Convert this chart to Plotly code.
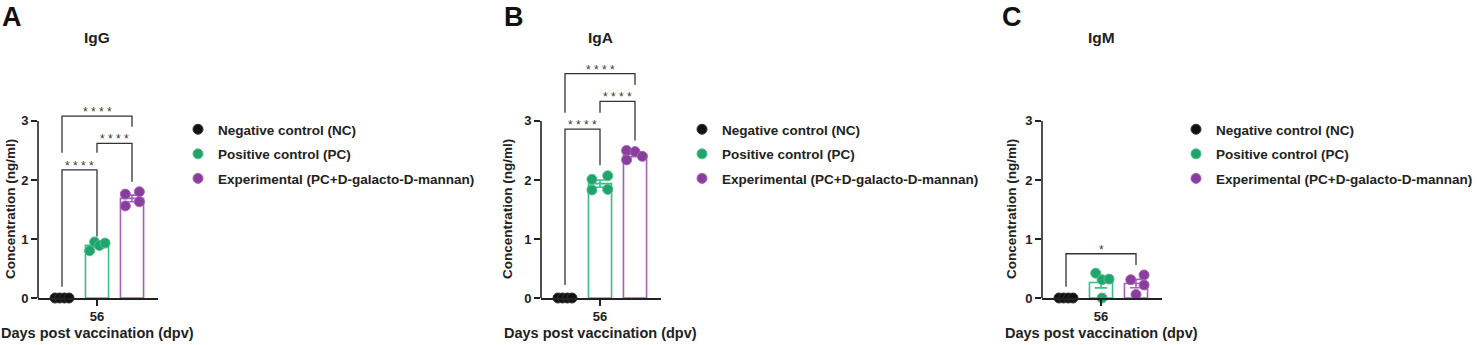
import numpy as np
import plotly.graph_objects as go

# ---------------- data ----------------
panel_titles = ["IgG", "IgA", "IgM"]
panel_letters = ["A", "B", "C"]
group_names = ["Negative control (NC)", "Positive control (PC)",
               "Experimental (PC+D-galacto-D-mannan)"]
timepoint_label = ["56"]
y_tick_values = [0, 1, 2, 3]
x_title = "Days post vaccination (dpv)"
y_title = "Concentration (ng/ml)"

igg_nc = [0.0, 0.0, 0.0, 0.0]
igg_pc = [0.80, 0.95, 0.89, 0.93]
igg_exp = [1.76, 1.80, 1.56, 1.63]

iga_nc = [0.0, 0.0, 0.0, 0.0]
iga_pc = [2.01, 2.07, 1.83, 1.84]
iga_exp = [2.50, 2.48, 2.34, 2.40]

igm_nc = [0.0, 0.0, 0.0, 0.0]
igm_pc = [0.42, 0.31, 0.32, 0.00]
igm_exp = [0.31, 0.39, 0.22, 0.06]

# significance brackets: (group a, group b, bracket height, left foot, right foot, label)
igg_sig = [(0, 2, 3.08, 2.46, 2.90, "* * * *"),
           (1, 2, 2.62, 2.46, 1.97, "* * * *"),
           (0, 1, 2.17, 0.19, 1.04, "* * * *")]
iga_sig = [(0, 2, 3.80, 3.14, 3.61, "* * * *"),
           (1, 2, 3.33, 3.14, 2.67, "* * * *"),
           (0, 1, 2.86, 0.22, 2.25, "* * * *")]
igm_sig = [(0, 2, 0.75, 0.19, 0.56, "*")]

# ---------------- style ----------------
FONT = "Arial, Liberation Sans, sans-serif"
INK = "#222222"
W, H = 1478, 345
point_colors = ["#111111", "#21a46b", "#8a3d9d"]
point_edges = ["#333333", "#4cc28e", "#a565b8"]
bar_edges = ["#222222", "#3dbd86", "#a462b7"]

# point horizontal spread (style only)
jitter = {
    "IgG": [[-0.20, -0.07, 0.07, 0.20], [-0.21, -0.07, 0.07, 0.23], [-0.19, 0.21, -0.19, 0.21]],
    "IgA": [[-0.20, -0.07, 0.07, 0.20], [-0.23, 0.22, -0.23, 0.22], [-0.24, 0.00, -0.24, 0.21]],
    "IgM": [[-0.20, -0.07, 0.07, 0.20], [-0.15, 0.03, 0.23, 0.03], [-0.15, 0.23, 0.23, 0.00]],
}

panel_data = {
    "IgG": [igg_nc, igg_pc, igg_exp],
    "IgA": [iga_nc, iga_pc, iga_exp],
    "IgM": [igm_nc, igm_pc, igm_exp],
}
panel_sig = {"IgG": igg_sig, "IgA": iga_sig, "IgM": igm_sig}

# pixel layout of each panel
x_left_px = [38, 541, 1042]
plot_w_px = 120
y0_px, ytop_px = 298, 56
y_range = [0, 4.1]
x_range = [-0.686, 2.743]
legend_x_px = [178, 682, 1478]
legend_xanchor = ["left", "left", "right"]
legend_top_px = 114
letter_x_px = [0, 502, 1000]
ylabel_off_px = [28, 34, 31]

fig = go.Figure()
layout = dict(
    width=W, height=H, margin=dict(l=0, r=0, t=0, b=0, autoexpand=False),
    paper_bgcolor="white", plot_bgcolor="white",
    barmode="overlay", font=dict(family=FONT, color=INK),
)
shapes, annotations = [], []

for p, title in enumerate(panel_titles):
    sfx = "" if p == 0 else str(p + 1)
    xa, ya = "x" + sfx, "y" + sfx
    leg = "legend" + sfx
    data = panel_data[title]

    for g, vals in enumerate(data):
        vals = np.asarray(vals, dtype=float)
        mean = vals.mean()
        sem = vals.std(ddof=1) / np.sqrt(len(vals))
        if g > 0:
            fig.add_trace(go.Bar(
                x=[g], y=[mean], width=0.66, xaxis=xa, yaxis=ya,
                marker=dict(color="white", line=dict(color=bar_edges[g], width=1.6)),
                error_y=dict(type="data", array=[sem], color=bar_edges[g],
                             thickness=1.6, width=6),
                showlegend=False, hoverinfo="skip",
            ))
        fig.add_trace(go.Scatter(
            x=[g + j for j in jitter[title][g]], y=vals, mode="markers",
            xaxis=xa, yaxis=ya, name=group_names[g], legend=leg,
            legendgroup=f"{title}{g}",
            marker=dict(size=10, color=point_colors[g],
                        line=dict(color=point_edges[g], width=1)),
            cliponaxis=False, showlegend=True,
        ))

    for (ga, gb, top, lf, rf, lab) in panel_sig[title]:
        shapes.append(dict(
            type="path", xref=xa, yref=ya, layer="above",
            path=f"M {ga},{lf} L {ga},{top} L {gb},{top} L {gb},{rf}",
            line=dict(color="#333333", width=1.3),
        ))
        annotations.append(dict(
            x=(ga + gb) / 2, y=top, xref=xa, yref=ya, text=lab,
            showarrow=False, yanchor="bottom", yshift=-5,
            font=dict(family=FONT, size=12, color="#3a3a3a"),
        ))

    # y axis line from 0 to 3 only
    shapes.append(dict(type="line", xref=xa + " domain", yref=ya,
                       x0=0, x1=0, y0=y_tick_values[0], y1=y_tick_values[-1],
                       line=dict(color=INK, width=1.6)))

    dom_x = [x_left_px[p] / W, (x_left_px[p] + plot_w_px) / W]
    layout["xaxis" + sfx] = dict(
        domain=dom_x, anchor=ya, range=x_range, automargin=False,
        tickvals=[1], ticktext=timepoint_label, ticks="outside", ticklen=6,
        tickwidth=1.6, tickcolor=INK, showline=True, linecolor=INK, linewidth=1.6,
        showgrid=False, zeroline=False,
        tickfont=dict(family=FONT, size=13, color=INK, weight="bold"),
    )
    layout["yaxis" + sfx] = dict(
        domain=[(H - y0_px) / H, (H - ytop_px) / H], anchor=xa, range=y_range,
        automargin=False,
        tickvals=y_tick_values, ticks="outside", ticklen=6, tickwidth=1.6,
        tickcolor=INK, showline=False, showgrid=False, zeroline=False,
        tickfont=dict(family=FONT, size=13, color=INK, weight="bold"),
    )
    layout[leg] = dict(
        x=legend_x_px[p] / W, xanchor=legend_xanchor[p],
        y=1 - legend_top_px / H, yanchor="top",
        font=dict(family=FONT, size=13.5, color=INK, weight="bold"),
        tracegroupgap=4, bgcolor="rgba(0,0,0,0)", itemsizing="trace",
    )

    cx = x_left_px[p] + plot_w_px * (1 - x_range[0]) / (x_range[1] - x_range[0])
    annotations += [
        dict(text=f"<b>{panel_letters[p]}</b>", x=letter_x_px[p] / W,
             y=1, xref="paper", yref="paper", xanchor="left", yanchor="top",
             showarrow=False, font=dict(family=FONT, size=27, color="#111111")),
        dict(text=f"<b>{title}</b>", x=cx / W, y=1 - 37 / H, xref="paper", yref="paper",
             xanchor="center", yanchor="middle", showarrow=False,
             font=dict(family=FONT, size=15.5, color=INK)),
        dict(text=f"<b>{x_title}</b>", x=cx / W, y=1 - 333 / H, xref="paper", yref="paper",
             xanchor="center", yanchor="middle", showarrow=False,
             font=dict(family=FONT, size=14.5, color=INK)),
        dict(text=f"<b>{y_title}</b>", x=(x_left_px[p] - ylabel_off_px[p]) / W,
             y=1 - 209 / H, xref="paper", yref="paper", xanchor="center",
             yanchor="middle", textangle=-90, showarrow=False,
             font=dict(family=FONT, size=13.5, color=INK)),
    ]

layout["shapes"] = shapes
layout["annotations"] = annotations
fig.update_layout(**layout)
fig.write_html(
    "out.html",
    config={"displayModeBar": False},
    post_script="document.body.style.margin='0';document.body.style.padding='0';",
)
